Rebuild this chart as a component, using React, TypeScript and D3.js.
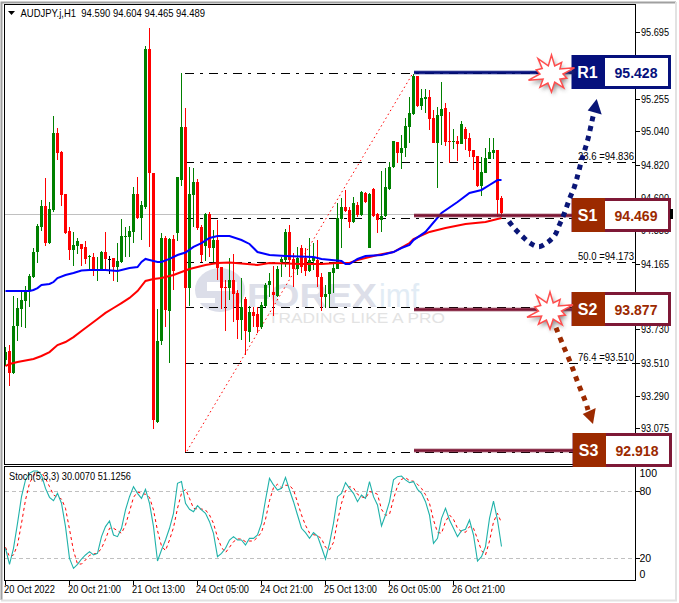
import React from "react";
import * as d3 from "d3";

const WIDTH = 679;
const HEIGHT = 603;

const opens = [
93.508,93.568,93.422,93.735,93.848,93.902,93.968,94.062,94.228,94.395,
94.535,94.288,94.508,95.022,94.895,94.615,94.368,94.242,94.268,94.282,
94.262,94.195,94.195,94.108,94.108,94.228,94.182,94.188,94.128,94.162,
94.335,94.328,94.362,94.615,94.455,94.528,95.582,94.755,93.095,93.635,
94.322,93.835,94.315,94.355,94.708,95.062,93.988,94.608,94.695,94.395,
94.268,94.482,94.255,94.308,94.128,93.995,93.988,94.042,93.955,93.775,
93.915,93.695,93.828,93.815,93.728,93.868,94.008,93.962,93.935,94.162,
94.175,94.362,94.182,94.115,94.255,94.188,94.102,94.168,94.175,94.062,
93.928,93.948,94.088,94.115,94.448,94.528,94.508,94.428,94.542,94.475,
94.622,94.255,94.648,94.482,94.442,94.468,94.648,94.795,94.962,94.888,
94.922,95.062,95.148,95.402,95.202,95.248,95.262,95.122,94.955,95.135,
95.188,94.968,94.962,94.968,94.948,95.048,94.988,94.908,94.868,94.668,
94.755,94.848,94.888,94.908,94.590];
const highs = [
93.595,93.608,93.935,93.922,93.962,94.002,94.082,94.255,94.415,94.575,
94.722,94.562,95.135,95.055,94.902,94.615,94.395,94.362,94.322,94.282,
94.302,94.208,94.222,94.195,94.235,94.362,94.202,94.188,94.288,94.448,
94.395,94.402,94.662,94.728,94.568,95.602,95.722,94.755,93.848,94.355,
94.335,94.322,94.342,94.728,95.422,95.188,94.795,94.788,94.715,94.408,
94.488,94.495,94.375,94.442,94.128,94.042,94.188,94.215,93.975,94.055,
93.928,93.868,93.862,93.862,93.895,94.022,94.088,94.135,94.135,94.195,
94.382,94.408,94.222,94.262,94.275,94.255,94.322,94.288,94.308,94.088,
94.008,94.095,94.155,94.555,94.588,94.642,94.528,94.595,94.562,94.635,
94.628,94.622,94.655,94.488,94.768,94.788,94.828,94.968,94.962,95.008,
95.122,95.262,95.415,95.402,95.315,95.315,95.308,95.175,95.195,95.362,
95.222,95.162,95.048,95.002,95.102,95.062,95.022,94.908,94.868,94.862,
94.922,94.988,94.988,94.908,94.604];
const lows = [
93.468,93.335,93.415,93.635,93.728,93.722,93.862,94.055,94.155,94.368,
94.268,94.282,94.495,94.842,94.535,94.348,94.175,94.135,94.215,94.135,
94.148,94.115,94.068,94.035,94.102,94.108,94.082,94.035,94.028,94.155,
94.195,94.195,94.288,94.448,94.308,94.515,94.262,93.048,93.088,93.608,
93.728,93.488,93.975,94.302,94.668,92.895,93.868,94.395,94.375,94.162,
94.168,94.195,94.162,94.042,93.848,93.702,93.908,93.762,93.648,93.642,
93.541,93.628,93.728,93.688,93.715,93.862,93.928,93.802,93.928,94.062,
94.128,94.062,93.995,94.075,94.088,94.068,94.095,94.108,93.995,93.835,
93.855,93.862,93.955,94.115,94.255,94.495,94.388,94.422,94.462,94.468,
94.555,94.255,94.462,94.355,94.362,94.462,94.642,94.788,94.822,94.782,
94.862,94.955,95.142,95.195,95.175,95.155,95.042,94.955,94.655,94.942,
94.935,94.822,94.915,94.835,94.948,94.908,94.862,94.775,94.662,94.602,
94.755,94.848,94.848,94.462,94.465];
const closes = [
93.561,93.422,93.735,93.855,93.908,93.962,94.068,94.228,94.402,94.535,
94.288,94.515,95.022,94.888,94.608,94.355,94.242,94.275,94.302,94.248,
94.182,94.202,94.108,94.115,94.228,94.182,94.182,94.128,94.168,94.335,
94.338,94.368,94.615,94.455,94.542,95.582,94.755,93.108,93.635,94.322,
93.842,94.315,94.102,94.728,95.062,93.988,94.615,94.695,94.388,94.208,
94.482,94.255,94.308,94.122,93.988,93.988,94.042,93.948,93.775,93.862,
93.702,93.828,93.802,93.728,93.875,94.008,94.035,93.942,94.115,94.182,
94.362,94.175,94.115,94.188,94.128,94.102,94.175,94.188,94.062,93.928,
93.948,94.095,94.122,94.455,94.528,94.502,94.428,94.555,94.475,94.628,
94.562,94.615,94.468,94.442,94.468,94.662,94.795,94.968,94.888,94.922,
95.068,95.155,95.402,95.202,95.255,95.262,95.115,94.955,95.142,95.182,
94.962,94.962,94.968,94.948,95.082,94.982,94.902,94.862,94.668,94.762,
94.855,94.895,94.908,94.575,94.489];

const fastMaBars = [0,6,7,8,9,11,12,13,15,17,19,21,25,28,30,31,33,34,35,36,38,39,41,43,45,47,49,51,53,56,59,61,63,65,66,70,77,79,84,85,86,88,90,94,97,99,101,102,105,109,113,116,119,121,123,124];
const fastMaValues = [93.968,93.968,93.975,93.988,94.008,94.015,94.028,94.055,94.075,94.088,94.105,94.108,94.108,94.102,94.115,94.122,94.128,94.162,94.182,94.175,94.162,94.162,94.182,94.208,94.225,94.262,94.288,94.322,94.335,94.335,94.308,94.282,94.228,94.215,94.208,94.202,94.195,94.182,94.168,94.148,94.148,94.182,94.202,94.208,94.228,94.255,94.275,94.308,94.362,94.488,94.562,94.622,94.642,94.675,94.708,94.708];
const slowMaBars = [0,1,3,7,9,11,13,15,17,19,21,23,25,27,29,31,33,35,37,39,42,44,46,50,53,56,63,66,74,79,83,86,88,93,97,101,102,106,110,115,120,124];
const slowMaValues = [93.468,93.482,93.495,93.515,93.535,93.561,93.608,93.628,93.661,93.702,93.742,93.782,93.822,93.855,93.888,93.922,93.968,94.035,94.048,94.055,94.075,94.095,94.115,94.142,94.155,94.158,94.142,94.155,94.148,94.148,94.155,94.155,94.175,94.208,94.228,94.288,94.315,94.362,94.388,94.415,94.428,94.455];

const stochMain = [
28.4,14,28.4,50.7,74.6,89.6,95.5,97.6,97.6,94,
82,74,71,77.6,68.7,47.8,19.4,10.4,14,18.8,
22.4,25.4,22.4,23.9,38.8,47.8,52.8,40.3,38.8,46.3,
62.7,74.6,83.6,77.6,73.1,81.2,68.7,47.8,17,26.9,
35.8,46.3,59.7,86.6,88.1,68.7,63.3,61.2,66.6,62.7,
59.7,52.2,41.8,20.9,23.9,28.4,35.8,38.8,35.8,35.8,
31.3,37.3,37.3,40.3,50.7,71.6,91,85.1,80.6,82.1,
91.9,80.6,70.1,58.2,46.3,42.4,37.3,42.4,39.4,29.3,
18.8,32.8,50.7,74.6,77.6,87.2,82,77.6,70.1,76.1,
73.1,88.1,74.6,67.2,48.4,58.2,70.1,89.6,92.5,93.1,
89.6,87.2,88.1,81.2,77.6,70.1,58.2,32.8,37.3,55.2,
64.2,53.7,46.3,38.8,44.2,45.4,53.7,40.3,17,20.9,
29.9,55.2,70.7,53.7,30.007];
const stochSignal = [
29.3,20.9,22.4,31.3,50.7,71.6,86.6,93.4,96.4,96.4,
91,83.6,76.1,74,72.5,64.2,45.4,26.3,14.3,14.3,
17.9,22.1,23.3,23.9,28.4,36.4,46.3,46.3,44.2,41.8,
49.3,61.2,74,78.8,77.6,76.7,74,62.7,44.2,30.4,
26.3,35.8,46.9,64.2,77.6,81.2,73.1,64.2,63.6,63.6,
62.7,58.2,50.7,38.2,29.3,24.5,29.3,34.3,36.7,36.7,
34.3,34.9,34.9,38.2,42.7,54.3,71,82.7,85.7,82.4,
84.8,84.8,80.6,69.6,58.2,49,42.1,40.6,39.7,37,
29.3,26.9,33.7,52.8,68.7,79.7,83.6,82.4,76.7,74.6,
73.1,79.1,78.5,76.7,63.3,57.9,58.8,72.5,84.2,90.1,
91.6,89,88.4,85.7,82,76.4,68.7,53.7,42.7,41.8,
52.2,58.2,54.3,46.3,43.3,42.7,47.8,46.3,36.7,26.3,
22.4,34.9,51.9,59.7,51.1256];

const priceTicks = ["95.695","95.255","95.040","94.820","94.600","94.385","94.165","93.730","93.510","93.290","93.075"];
const timeTickBars = [0,16,32,48,64,80,96,112];
const timeTickLabels = ["20 Oct 2022","20 Oct 21:00","21 Oct 13:00","24 Oct 05:00","24 Oct 21:00","25 Oct 13:00","26 Oct 05:00","26 Oct 21:00"];
const fibLevels = [95.428,94.836,94.469,94.173,93.877,93.51,92.918];
const fibLabels = ["","23.6 =94.836","","50.0 =94.173","","76.4 =93.510",""];
const stochLevels = [80,20];
const stochTicks = [[100,473],[80,490.5],[20,557.5],[0,573.5]];

const keyLabels = ["R1","S1","S2","S3"];
const keyValues = ["95.428","94.469","93.877","92.918"];
const keyCentres = [72,215,309,450];

const FONT = "'Liberation Sans', Arial, sans-serif";
const GREEN = "#008000";
const RED = "#ff0000";
const NAVY = "#05107c";
const BROWN = "#9c2a00";
const MAROON = "#7e1836";

const x = d3.scaleLinear().domain([0, 124]).range([5.5, 501.5]);
const yMark = d3.scaleLinear().domain([95.695, 93.055]).range([32, 428]);
const yAxis = d3.scaleLinear().domain([95.695, 93.075]).range([32.3, 428.3]);
const yStoch = d3.scaleLinear().domain([0, 100]).range([580, 468.3]);

const maLine = d3.line<[number, number]>().x(d => x(d[0])).y(d => yMark(d[1]));
const stochLine = d3.line<number>().x((_, i) => x(i)).y(d => yStoch(d));
const curve = d3.line<number[]>().x(d => d[0]).y(d => d[1]).curve(d3.curveCatmullRom.alpha(0.5));

const blueRoute = [[509,221.5],[515,229],[522.7,236.7],[530,243],[539,246.7],[548,242],[555,235],[559,225.7],[563,216.7],[570,197.7],[574,188],[576.7,179],[581.7,160],[587.7,140],[592,121],[594,112]];
const brownRoute = [[556,327.7],[563,345],[571,364],[578,383],[585.7,402.3],[588,410]];

function star(cx: number, cy: number, seed: number[]) {
  const n = seed.length;
  return seed.map((r, i) => {
    const a = (i / n) * Math.PI * 2 - Math.PI / 2;
    return `${(cx + Math.cos(a) * r * 1.15).toFixed(1)},${(cy + Math.sin(a) * r * 0.95).toFixed(1)}`;
  }).join(" ");
}
const burstRadii = [20,9,15,9,21,10,14,9,18,9,19,10,17,9,21,10,14,10,20,9];

function KeyBox({ i }: { i: number }) {
  const isR = keyLabels[i] === "R1";
  const cy = keyCentres[i];
  const edge = isR ? NAVY : MAROON;
  const fill = isR ? NAVY : BROWN;
  const left = i === 3 ? 574 : 573;
  return (
    <g>
      <line x1={414} x2={left} y1={cy + 0.5} y2={cy + 0.5} stroke={edge} strokeOpacity={0.5} strokeWidth={4} />
      <line x1={414} x2={left} y1={cy + 0.5} y2={cy + 0.5} stroke={edge} strokeWidth={2.4} />
      <rect x={left} y={cy - 15.5} width={96.5} height={31} fill="#fff" stroke={edge} strokeWidth={3} />
      <rect x={left - 1} y={cy - 17} width={33} height={34} fill={fill} />
      <text x={left + 14.5} y={cy + 6} fill="#fff" fontFamily={FONT} fontWeight="bold" fontSize={16} textAnchor="middle">{keyLabels[i]}</text>
      <text x={left + 63} y={cy + 6} fill={isR ? NAVY : BROWN} fontFamily={FONT} fontWeight="bold" fontSize={15.5} textAnchor="middle" textLength={43} lengthAdjust="spacingAndGlyphs">{keyValues[i]}</text>
    </g>
  );
}

function Burst({ cx, cy }: { cx: number; cy: number }) {
  return (
    <g>
      <polygon points={star(cx + 2, cy + 3, burstRadii)} fill="#555" opacity={0.65} filter="url(#soft)" />
      <polygon points={star(cx, cy, burstRadii)} fill="#fff" stroke="#ff4d4d" strokeWidth={1.5} />
    </g>
  );
}

export default function App() {
  const fastPts = fastMaBars.map((b, i) => [b, fastMaValues[i]] as [number, number]);
  const slowPts = slowMaBars.map((b, i) => [b, slowMaValues[i]] as [number, number]);
  return (
    <svg width={WIDTH} height={HEIGHT} style={{ position: "absolute", left: 0, top: 0, background: "#fff" }}>
      <defs>
        <filter id="soft" x="-30%" y="-30%" width="160%" height="160%"><feGaussianBlur stdDeviation="2.2" /></filter>
      </defs>
      <path d="M1.5 600V2.5H676" fill="none" stroke="#a0a0a0" strokeWidth={2} />
      <path d="M1 600.5H676V2" fill="none" stroke="#e2e2e2" strokeWidth={2} />

      {/* watermark */}
      <g>
        <ellipse cx={220} cy={290} rx={25} ry={22} fill="#dcdee9" />
        <rect x={207} y={282} width={30} height={9} fill="#fff" />
        <rect x={195} y={298} width={20} height={5} fill="#fff" />
        <text x={247} y={307} fontFamily={FONT} fontWeight="bold" fontSize={34} fill="#dddfe9" textLength={130} lengthAdjust="spacingAndGlyphs">FOREX</text>
        <text x={379} y={307} fontFamily={FONT} fontSize={34} fill="#e2ecf5" textLength={40} lengthAdjust="spacingAndGlyphs">imf</text>
        <text x={268} y={323} fontFamily={FONT} fontSize={14.5} fill="#e3e3e3" textLength={177} lengthAdjust="spacingAndGlyphs">TRADING LIKE A PRO</text>
      </g>

      {/* bid line */}
      <line x1={5} x2={635} y1={214.5} y2={214.5} stroke="#c0c0c0" />

      {/* fibonacci */}
      <line x1={187} y1={451} x2={413} y2={73} stroke={RED} strokeDasharray="1.5 3" />
      {fibLevels.map((v, i) => (
        <g key={i}>
          <line x1={185} x2={635} y1={Math.round(yAxis(v)) + 0.5} y2={Math.round(yAxis(v)) + 0.5} stroke="#000" strokeDasharray="9 6 3 6" />
          {fibLabels[i] && <text x={578} y={yAxis(v) - 2} fontFamily={FONT} fontSize={10.5} textLength={56} lengthAdjust="spacingAndGlyphs">{fibLabels[i]}</text>}
        </g>
      ))}

      {/* candles */}
      <g shapeRendering="crispEdges">
        {opens.map((o, i) => {
          const c = closes[i];
          const color = o === c ? "#000" : c > o ? GREEN : RED;
          const top = yMark(Math.max(o, c));
          const bot = yMark(Math.min(o, c));
          const cx = Math.floor(x(i));
          return (
            <g key={i}>
              <rect x={cx} y={yMark(highs[i])} width={1} height={yMark(lows[i]) - yMark(highs[i])} fill={color} />
              {o === c
                ? <rect x={cx - 1} y={top} width={3} height={1} fill={color} />
                : <rect x={cx - 1} y={top} width={3} height={Math.max(1, bot - top)} fill={color} />}
            </g>
          );
        })}
      </g>

      {/* moving averages */}
      <path d={maLine(slowPts) ?? ""} fill="none" stroke={RED} strokeWidth={2} />
      <path d={maLine(fastPts) ?? ""} fill="none" stroke="#0000ff" strokeWidth={2} />

      {/* frames */}
      <rect x={4.5} y={4.5} width={631} height={460} fill="none" stroke="#000" />
      <rect x={4.5} y={466.5} width={631} height={114} fill="none" stroke="#000" />

      {/* header */}
      <path d="M8 11h7l-3.5 4z" fill="#000" />
      <text x={20.5} y={16.5} fontFamily={FONT} fontSize={11} xmlSpace="preserve" textLength={184.5} lengthAdjust="spacingAndGlyphs">AUDJPY.j,H1  94.590 94.604 94.465 94.489</text>

      {/* price axis */}
      {priceTicks.map(t => (
        <g key={t}>
          <line x1={636} x2={640} y1={Math.round(yAxis(+t)) + 0.5} y2={Math.round(yAxis(+t)) + 0.5} stroke="#000" />
          <text x={641} y={yAxis(+t) + 4} fontFamily={FONT} fontSize={10.5} textLength={28} lengthAdjust="spacingAndGlyphs">{t}</text>
        </g>
      ))}

      {/* stochastic */}
      {stochLevels.map(l => (
        <line key={l} x1={5} x2={635} y1={Math.round(yStoch(l)) + 0.5} y2={Math.round(yStoch(l)) + 0.5} stroke="#c0c0c0" strokeDasharray="4 3" />
      ))}
      <path d={stochLine(stochSignal) ?? ""} fill="none" stroke={RED} strokeDasharray="3 3" />
      <path d={stochLine(stochMain) ?? ""} fill="none" stroke="#20b2aa" strokeWidth={1.1} />
      <text x={9} y={479.5} fontFamily={FONT} fontSize={10.5} textLength={122} lengthAdjust="spacingAndGlyphs">Stoch(5,3,3) 30.0070 51.1256</text>
      {stochTicks.map(([v, py]) => (
        <g key={v}>
          <text x={639.5} y={py + 4} fontFamily={FONT} fontSize={10.5}>{v}</text>
        </g>
      ))}
      {stochLevels.map(l => (
        <line key={l} x1={636} x2={640} y1={Math.round(yStoch(l)) + 0.5} y2={Math.round(yStoch(l)) + 0.5} stroke="#000" />
      ))}

      {/* time axis */}
      {timeTickBars.map((b, i) => (
        <g key={b}>
          <line x1={Math.floor(x(b)) + 0.5} x2={Math.floor(x(b)) + 0.5} y1={581} y2={585} stroke="#000" />
          <text x={Math.floor(x(b)) - 1} y={593} fontFamily={FONT} fontSize={10.5} textLength={i === 0 ? 51 : 53} lengthAdjust="spacingAndGlyphs">{timeTickLabels[i]}</text>
        </g>
      ))}

      {/* annotations */}
      {[0, 1, 2, 3].map(i => <KeyBox key={i} i={i} />)}
      <rect x={670} y={209} width={3} height={10} fill="#000" />
      <Burst cx={551.5} cy={74} />
      <Burst cx={550} cy={311} />
      <path d={curve(blueRoute) ?? ""} fill="none" stroke="#0a1677" strokeWidth={5} strokeDasharray="5 5" />
      <path d="M596.7 99L587.7 110.5L601.7 114.5Z" fill="#0a1677" />
      <path d={curve(brownRoute) ?? ""} fill="none" stroke={BROWN} strokeWidth={5} strokeDasharray="5 5.5" />
      <path d="M593 424L582.7 414L595.7 408Z" fill={BROWN} />
    </svg>
  );
}
